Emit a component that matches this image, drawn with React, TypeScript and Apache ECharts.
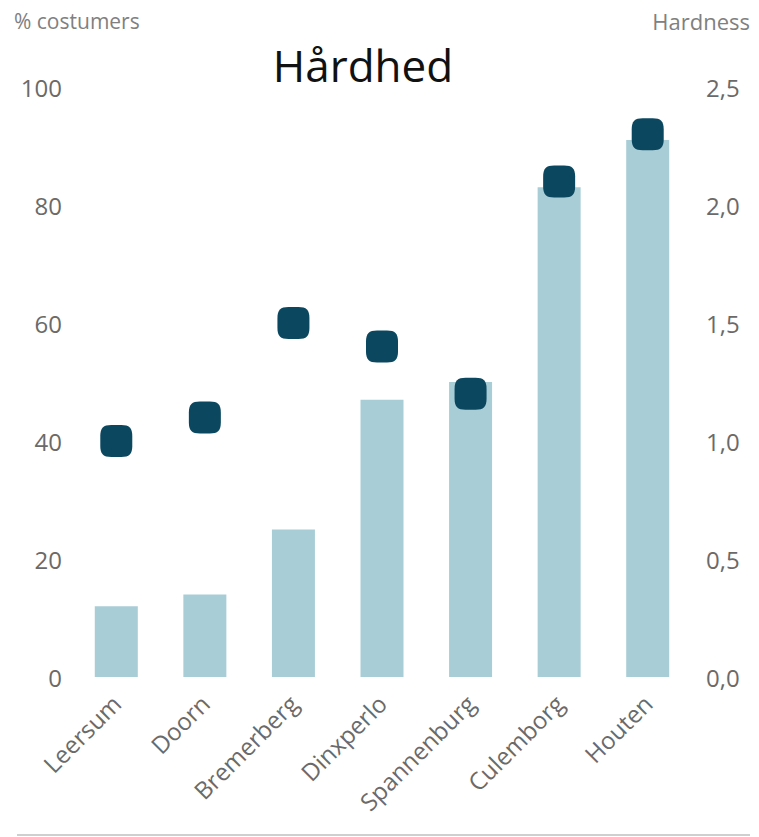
import React, { useEffect, useRef } from "react";
import * as echarts from "echarts";

const categories = ["Leersum", "Doorn", "Bremerberg", "Dinxperlo", "Spannenburg", "Culemborg", "Houten"];
const customersPct = [12, 14, 25, 47, 50, 83, 91];
const hardness = [1.0, 1.1, 1.5, 1.4, 1.2, 2.1, 2.3];
const titleText = "Hårdhed";
const leftAxisName = "% costumers";
const rightAxisName = "Hardness";

const dotPath =
  "path://M11,0 H21 C29,0 32,3 32,11 V21 C32,29 29,32 21,32 H11 C3,32 0,29 0,21 V11 C0,3 3,0 11,0 Z";

export default function App() {
  const ref = useRef<HTMLDivElement>(null);
  useEffect(() => {
    if (!ref.current) return;
    const chart = echarts.init(ref.current, null, { renderer: "svg" });
    const font = "'Open Sans', 'Noto Sans', sans-serif";
    chart.setOption({
      animation: false,
      backgroundColor: "#ffffff",
      title: {
        text: titleText,
        left: 358,
        textAlign: "center",
        top: 38,
        textStyle: { fontFamily: font, fontSize: 44, fontWeight: "normal", color: "#111" },
      },
      grid: { left: 72, right: 67, top: 87, bottom: 160 },
      graphic: [
        {
          type: "text",
          left: 14,
          top: 10,
          style: { text: leftAxisName, fontFamily: font, fontSize: 21, fill: "#808080" },
        },
        {
          type: "text",
          right: 9,
          top: 10,
          style: { text: rightAxisName, fontFamily: font, fontSize: 22, fill: "#808080" },
        },
        {
          type: "line",
          shape: { x1: 17, y1: 835, x2: 750, y2: 835 },
          style: { stroke: "#cfcfcf", lineWidth: 2 },
        },
      ],
      xAxis: {
        type: "category",
        data: categories,
        axisLine: { show: false },
        axisTick: { show: false },
        axisLabel: {
          rotate: 45,
          margin: 22,
          interval: 0,
          fontFamily: font,
          fontSize: 24,
          color: "#6a6a6a",
        },
      },
      yAxis: [
        {
          type: "value",
          min: 0,
          max: 100,
          interval: 20,
          splitLine: { show: false },
          axisLine: { show: false },
          axisTick: { show: false },
          axisLabel: { margin: 10, fontFamily: font, fontSize: 24, color: "#6a6a6a" },
        },
        {
          type: "value",
          min: 0,
          max: 2.5,
          interval: 0.5,
          position: "right",
          splitLine: { show: false },
          axisLine: { show: false },
          axisTick: { show: false },
          axisLabel: {
            margin: 14,
            fontFamily: font,
            fontSize: 24,
            color: "#6a6a6a",
            formatter: (v: number) => v.toFixed(1).replace(".", ","),
          },
        },
      ],
      series: [
        {
          type: "bar",
          data: customersPct,
          yAxisIndex: 0,
          barWidth: 43,
          itemStyle: { color: "#a8cdd6" },
        },
        {
          type: "scatter",
          data: hardness,
          yAxisIndex: 1,
          symbol: dotPath,
          symbolSize: 32,
          itemStyle: { color: "#0b4860", opacity: 1 },
          z: 5,
        },
      ],
    });
    return () => chart.dispose();
  }, []);
  return <div ref={ref} style={{ width: 759, height: 837, position: "absolute", left: 0, top: 0 }} />;
}
